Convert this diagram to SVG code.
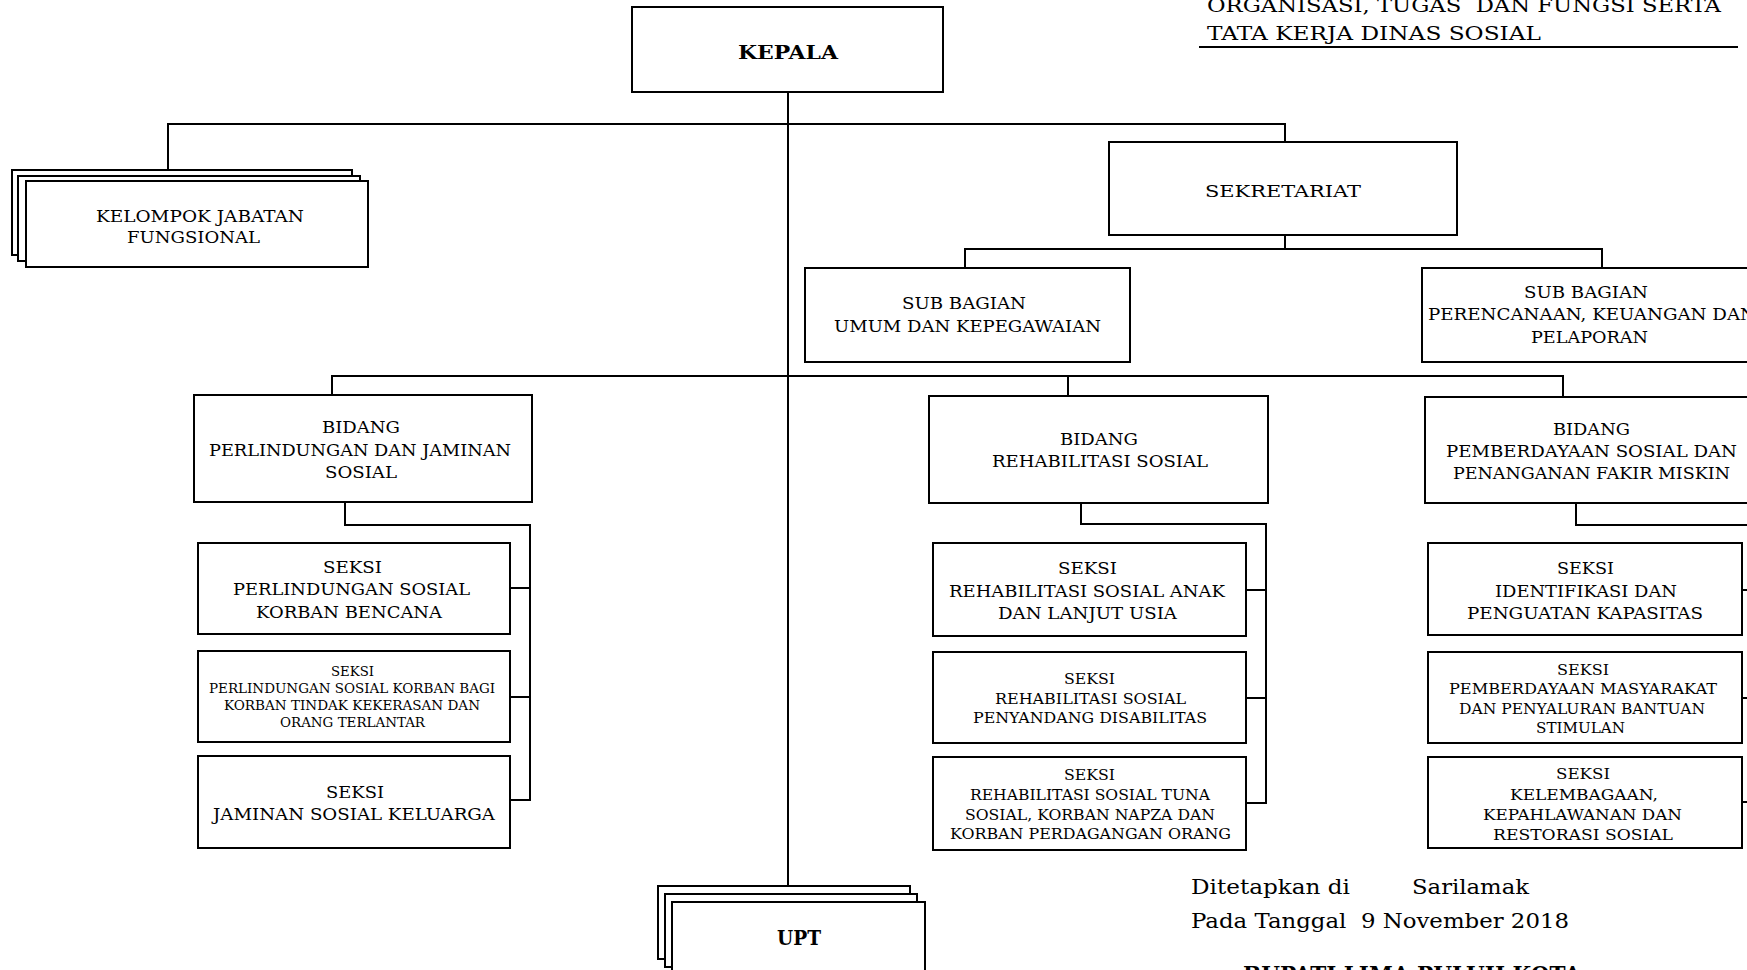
<svg xmlns="http://www.w3.org/2000/svg" width="1747" height="970" viewBox="0 0 1747 970">
<style>
.bx{fill:#fff;stroke:#000;stroke-width:2}
.cn{fill:none;stroke:#000;stroke-width:2}
text{font-family:"DejaVu Serif","Liberation Serif",serif;fill:#000}
.t{font-size:17px}
.m{font-size:15.5px}
.s{font-size:13px}
.b{font-weight:bold}
</style>
<rect width="1747" height="970" fill="#fff"/>
<g id="title">
<text x="1207" y="12" font-size="18" textLength="514" lengthAdjust="spacingAndGlyphs" xml:space="preserve">ORGANISASI, TUGAS  DAN FUNGSI SERTA</text>
<text x="1207" y="40" font-size="18" textLength="334" lengthAdjust="spacingAndGlyphs">TATA KERJA DINAS SOSIAL</text>
<line x1="1199" y1="47" x2="1738" y2="47" stroke="#000" stroke-width="2"/>
</g>
<g id="connectors">
<path class="cn" d="M788 92 V886"/>
<path class="cn" d="M168 170 V124 H1285 V142"/>
<path class="cn" d="M1285 235 V249"/>
<path class="cn" d="M965 268 V249 H1602 V268"/>
<path class="cn" d="M332 395 V376 H1563 V397"/>
<path class="cn" d="M1068 376 V396"/>
<path class="cn" d="M345 502 V525 H530 V800 H510 M510 588 H530 M510 697 H530"/>
<path class="cn" d="M1081 503 V524 H1266 V803 H1246 M1246 590 H1266 M1246 698 H1266"/>
<path class="cn" d="M1576 503 V525 H1760 V802 H1742 M1742 590 H1760 M1742 698 H1760"/>
</g>
<g id="kepala">
<rect class="bx" x="632" y="7" width="311" height="85"/>
<text class="b" x="738" y="59" font-size="18" textLength="100" lengthAdjust="spacingAndGlyphs">KEPALA</text>
</g>
<g id="kelompok">
<rect class="bx" x="12" y="170" width="340" height="85"/>
<rect class="bx" x="18" y="176" width="342" height="85"/>
<rect class="bx" x="26" y="181" width="342" height="86"/>
<text class="t" x="96" y="222" textLength="208" lengthAdjust="spacingAndGlyphs">KELOMPOK JABATAN</text>
<text class="t" x="127" y="243" textLength="133" lengthAdjust="spacingAndGlyphs">FUNGSIONAL</text>
</g>
<g id="sekretariat">
<rect class="bx" x="1109" y="142" width="348" height="93"/>
<text class="t" x="1205" y="197" textLength="156" lengthAdjust="spacingAndGlyphs">SEKRETARIAT</text>
</g>
<g id="subbag-umum">
<rect class="bx" x="805" y="268" width="325" height="94"/>
<text class="t" x="902" y="309" textLength="124" lengthAdjust="spacingAndGlyphs">SUB BAGIAN</text>
<text class="t" x="834" y="332" textLength="267" lengthAdjust="spacingAndGlyphs">UMUM DAN KEPEGAWAIAN</text>
</g>
<g id="subbag-perencanaan">
<rect class="bx" x="1422" y="268" width="340" height="94"/>
<text class="t" x="1524" y="298" textLength="124" lengthAdjust="spacingAndGlyphs">SUB BAGIAN</text>
<text class="t" x="1428" y="320" textLength="328" lengthAdjust="spacingAndGlyphs">PERENCANAAN, KEUANGAN DAN</text>
<text class="t" x="1531" y="343" textLength="117" lengthAdjust="spacingAndGlyphs">PELAPORAN</text>
</g>
<g id="bidang-perlindungan">
<rect class="bx" x="194" y="395" width="338" height="107"/>
<text class="t" x="322" y="433" textLength="78" lengthAdjust="spacingAndGlyphs">BIDANG</text>
<text class="t" x="209" y="456" textLength="302" lengthAdjust="spacingAndGlyphs">PERLINDUNGAN DAN JAMINAN</text>
<text class="t" x="325" y="478" textLength="72" lengthAdjust="spacingAndGlyphs">SOSIAL</text>
</g>
<g id="seksi-l1">
<rect class="bx" x="198" y="543" width="312" height="91"/>
<text class="t" x="323" y="573" textLength="59" lengthAdjust="spacingAndGlyphs">SEKSI</text>
<text class="t" x="233" y="595" textLength="237" lengthAdjust="spacingAndGlyphs">PERLINDUNGAN SOSIAL</text>
<text class="t" x="256" y="618" textLength="186" lengthAdjust="spacingAndGlyphs">KORBAN BENCANA</text>
</g>
<g id="seksi-l2">
<rect class="bx" x="198" y="651" width="312" height="91"/>
<text class="s" x="331" y="676" textLength="43" lengthAdjust="spacingAndGlyphs">SEKSI</text>
<text class="s" x="209" y="693" textLength="286" lengthAdjust="spacingAndGlyphs">PERLINDUNGAN SOSIAL KORBAN BAGI</text>
<text class="s" x="224" y="710" textLength="256" lengthAdjust="spacingAndGlyphs">KORBAN TINDAK KEKERASAN DAN</text>
<text class="s" x="280" y="727" textLength="145" lengthAdjust="spacingAndGlyphs">ORANG TERLANTAR</text>
</g>
<g id="seksi-l3">
<rect class="bx" x="198" y="756" width="312" height="92"/>
<text class="t" x="326" y="798" textLength="58" lengthAdjust="spacingAndGlyphs">SEKSI</text>
<text class="t" x="213" y="820" textLength="282" lengthAdjust="spacingAndGlyphs">JAMINAN SOSIAL KELUARGA</text>
</g>
<g id="bidang-rehabilitasi">
<rect class="bx" x="929" y="396" width="339" height="107"/>
<text class="t" x="1060" y="445" textLength="78" lengthAdjust="spacingAndGlyphs">BIDANG</text>
<text class="t" x="992" y="467" textLength="216" lengthAdjust="spacingAndGlyphs">REHABILITASI SOSIAL</text>
</g>
<g id="seksi-r1">
<rect class="bx" x="933" y="543" width="313" height="93"/>
<text class="t" x="1058" y="574" textLength="59" lengthAdjust="spacingAndGlyphs">SEKSI</text>
<text class="t" x="949" y="597" textLength="276" lengthAdjust="spacingAndGlyphs">REHABILITASI SOSIAL ANAK</text>
<text class="t" x="998" y="619" textLength="179" lengthAdjust="spacingAndGlyphs">DAN LANJUT USIA</text>
</g>
<g id="seksi-r2">
<rect class="bx" x="933" y="652" width="313" height="91"/>
<text class="m" x="1064" y="684" textLength="51" lengthAdjust="spacingAndGlyphs">SEKSI</text>
<text class="m" x="995" y="704" textLength="191" lengthAdjust="spacingAndGlyphs">REHABILITASI SOSIAL</text>
<text class="m" x="973" y="723" textLength="234" lengthAdjust="spacingAndGlyphs">PENYANDANG DISABILITAS</text>
</g>
<g id="seksi-r3">
<rect class="bx" x="933" y="757" width="313" height="93"/>
<text class="m" x="1064" y="780" textLength="51" lengthAdjust="spacingAndGlyphs">SEKSI</text>
<text class="m" x="970" y="800" textLength="240" lengthAdjust="spacingAndGlyphs">REHABILITASI SOSIAL TUNA</text>
<text class="m" x="965" y="820" textLength="250" lengthAdjust="spacingAndGlyphs">SOSIAL, KORBAN NAPZA DAN</text>
<text class="m" x="950" y="839" textLength="281" lengthAdjust="spacingAndGlyphs">KORBAN PERDAGANGAN ORANG</text>
</g>
<g id="bidang-pemberdayaan">
<rect class="bx" x="1425" y="397" width="340" height="106"/>
<text class="t" x="1553" y="435" textLength="77" lengthAdjust="spacingAndGlyphs">BIDANG</text>
<text class="t" x="1446" y="457" textLength="291" lengthAdjust="spacingAndGlyphs">PEMBERDAYAAN SOSIAL DAN</text>
<text class="t" x="1453" y="479" textLength="277" lengthAdjust="spacingAndGlyphs">PENANGANAN FAKIR MISKIN</text>
</g>
<g id="seksi-p1">
<rect class="bx" x="1428" y="543" width="314" height="92"/>
<text class="t" x="1557" y="574" textLength="57" lengthAdjust="spacingAndGlyphs">SEKSI</text>
<text class="t" x="1495" y="597" textLength="182" lengthAdjust="spacingAndGlyphs">IDENTIFIKASI DAN</text>
<text class="t" x="1467" y="619" textLength="236" lengthAdjust="spacingAndGlyphs">PENGUATAN KAPASITAS</text>
</g>
<g id="seksi-p2">
<rect class="bx" x="1428" y="652" width="314" height="91"/>
<text class="m" x="1557" y="675" textLength="52" lengthAdjust="spacingAndGlyphs">SEKSI</text>
<text class="m" x="1449" y="694" textLength="268" lengthAdjust="spacingAndGlyphs">PEMBERDAYAAN MASYARAKAT</text>
<text class="m" x="1459" y="714" textLength="246" lengthAdjust="spacingAndGlyphs">DAN PENYALURAN BANTUAN</text>
<text class="m" x="1536" y="733" textLength="89" lengthAdjust="spacingAndGlyphs">STIMULAN</text>
</g>
<g id="seksi-p3">
<rect class="bx" x="1428" y="757" width="314" height="91"/>
<text class="m" x="1556" y="779" textLength="54" lengthAdjust="spacingAndGlyphs">SEKSI</text>
<text class="m" x="1510" y="800" textLength="148" lengthAdjust="spacingAndGlyphs">KELEMBAGAAN,</text>
<text class="m" x="1483" y="820" textLength="199" lengthAdjust="spacingAndGlyphs">KEPAHLAWANAN DAN</text>
<text class="m" x="1493" y="840" textLength="180" lengthAdjust="spacingAndGlyphs">RESTORASI SOSIAL</text>
</g>
<g id="upt">
<rect class="bx" x="658" y="886" width="252" height="73"/>
<rect class="bx" x="665" y="894" width="252" height="73"/>
<rect class="bx" x="672" y="902" width="253" height="80"/>
<text class="b" x="777" y="945" font-size="20" textLength="44" lengthAdjust="spacingAndGlyphs">UPT</text>
</g>
<g id="pengesahan">
<text x="1191" y="894" font-size="21" textLength="159" lengthAdjust="spacingAndGlyphs">Ditetapkan di</text>
<text x="1412" y="894" font-size="21" textLength="117" lengthAdjust="spacingAndGlyphs">Sarilamak</text>
<text x="1191" y="928" font-size="21" textLength="378" lengthAdjust="spacingAndGlyphs" xml:space="preserve">Pada Tanggal  9 November 2018</text>
<text class="b" x="1243" y="982" font-size="22" textLength="338" lengthAdjust="spacingAndGlyphs">BUPATI LIMA PULUH KOTA</text>
</g>
</svg>
